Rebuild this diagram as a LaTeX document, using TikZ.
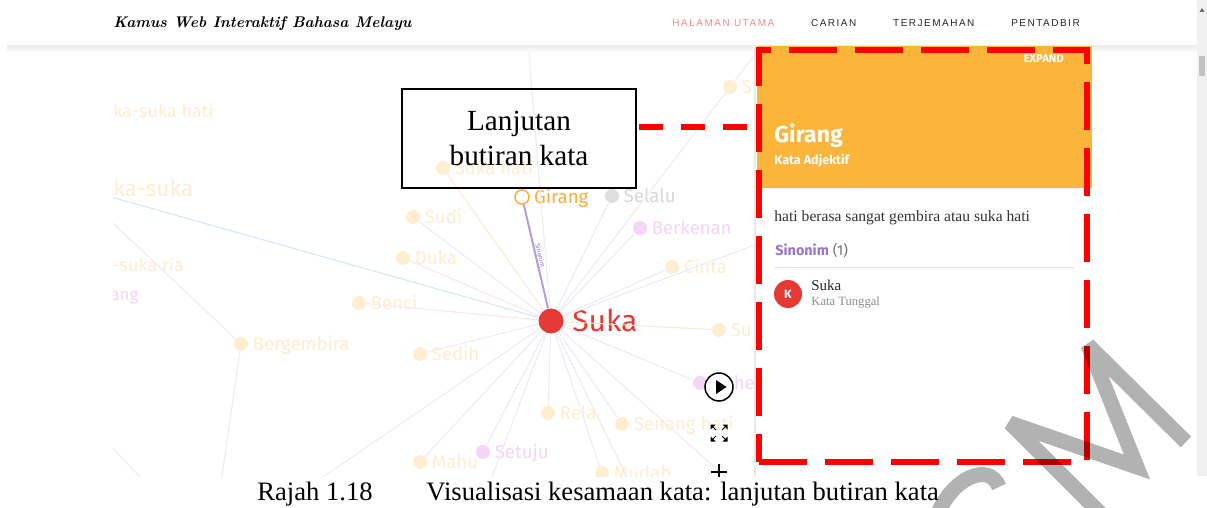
\documentclass[tikz,border=0pt]{standalone}
\usepackage{fontspec}
\setmainfont{Liberation Serif}
\newfontfamily\grafont{Fira Sans}
\newfontfamily\navfont[LetterSpace=15]{Liberation Sans}
\newfontfamily\judulfont{Latin Modern Roman}
\usepackage{tikz}
\usetikzlibrary{arrows,positioning}

\definecolor{pic}{RGB}{255,237,208}
\definecolor{ungu}{RGB}{243,214,245}
\definecolor{oren}{RGB}{255,174,60}
\definecolor{merah}{RGB}{229,57,53}
\definecolor{lavender}{RGB}{234,234,247}
\definecolor{garisoren}{RGB}{253,232,212}
\definecolor{garismerah}{RGB}{251,228,236}
\definecolor{biru}{RGB}{210,229,246}
\definecolor{sinonim}{RGB}{179,157,219}
\definecolor{tajuk}{RGB}{252,181,59}
\definecolor{unguteks}{RGB}{149,117,205}
\definecolor{nav}{RGB}{242,138,138}
\definecolor{bingkai}{RGB}{255,0,0}

\begin{document}
\begin{tikzpicture}[x=0.5pt,y=-0.5pt,
        titik/.style={circle,fill=pic,inner sep=0pt,minimum size=7pt},
        titikungu/.style={titik,fill=ungu},
        tepi/.style={draw=lavender,line width=0.5pt},
        every label/.style={font=\grafont\fontsize{9.3}{9.3}\selectfont,text=pic,
          inner sep=0pt,text height=6.6pt,text depth=0pt},
        label distance=2pt,
        teks/.style={anchor=base west,inner sep=0pt},
        menu/.style={anchor=west,inner sep=0pt,font=\navfont\fontsize{5}{5}\selectfont,text=black!85},
        anak/.style={line width=0.5pt},
        sambung/.style={draw=bingkai,line width=2.7pt,dash pattern=on 12pt off 9pt}]

  \useasboundingbox (0,0) rectangle (1207,508);
  \fill[white] (0,0) rectangle (1207,508);

  % graf kata
  \begin{scope}
    \clip (113,46) rectangle (757,476);
    \node[circle,fill=merah,minimum size=12.5pt,inner sep=0pt,
      label={[text=merah,font=\grafont\fontsize{15}{15}\selectfont,text height=10.7pt,label distance=4pt]right:Suka}]
      (suka) at (551,321) {};
    \node[circle,draw=oren,fill=white,line width=0.75pt,minimum size=7pt,inner sep=0pt,
      label={[text=oren]right:Girang}] (girang) at (522,197) {};
    \node[titik,fill=black!13,label={[text=black!16]right:Selalu}] (selalu) at (612,196) {};
    \node[titik,label=right:Suka hati] (sukahati) at (443,168) {};
    \node[titik,label=right:Sudi] (sudi) at (413,217) {};
    \node[titikungu,label={[text=ungu]right:Berkenan}] (berkenan) at (640,228) {};
    \node[titik,label=right:Duka] (duka) at (403,258) {};
    \node[titik,label=right:Cinta] (cinta) at (672,267) {};
    \node[titik,label=right:Benci] (benci) at (359,303) {};
    \node[titik,label=right:Su] (sub) at (719,330) {};
    \node[titik,label=right:S] (s1) at (730,87) {};
    \node[titik,label=right:Bergembira] (bergembira) at (241,344) {};
    \node[titik,label=right:Sedih] (sedih) at (420,354) {};
    \node[titikungu,label={[text=ungu,label distance=13pt]right:he}] (he) at (700,383) {};
    \node[titik,label=right:Rela] (rela) at (548,413) {};
    \node[titik,label=right:Senang hati] (senanghati) at (622,424) {};
    \node[titikungu,label={[text=ungu]right:Setuju}] (setuju) at (483,452) {};
    \node[titik,label=right:Mahu] (mahu) at (420,462) {};
    \node[titik,label=right:Mudah] (mudah) at (602,473) {};

    \node[anchor=west,inner sep=0pt,text=pic,font=\grafont\fontsize{9}{9}\selectfont] (kk1) at (113,111) {ka-suka hati};
    \node[anchor=west,inner sep=0pt,text=pic,font=\grafont\fontsize{11.3}{11.3}\selectfont] (kk2) at (113,188) {ka-suka};
    \node[anchor=west,inner sep=0pt,text=pic,font=\grafont\fontsize{9}{9}\selectfont] (kk3) at (112,265) {-suka ria};
    \node[anchor=west,inner sep=0pt,text=ungu,font=\grafont\fontsize{8.5}{8.5}\selectfont] (kk4) at (110,297) {ang};

    \coordinate (atas) at (526,20);
    \coordinate (kiri) at (90,191);
    \coordinate (ujungA) at (775,29);
    \coordinate (ujungB) at (800,228);
    \coordinate (bawahA) at (304,490);
    \coordinate (bawahB) at (487,490);
    \coordinate (bawahC) at (633,490);
    \coordinate (bawahD) at (740,490);
    \coordinate (kiriA) at (100,211);
    \coordinate (bawahE) at (220,490);
    \coordinate (kiriB) at (100,434);
    \coordinate (bawahF) at (152,490);

    \path (suka) edge[tepi,draw=garisoren] (sukahati)
          (suka) edge[tepi] (sudi)
          (suka) edge[tepi,draw=garismerah] (duka)
          (suka) edge[tepi,draw=garismerah] (benci)
          (suka) edge[tepi,draw=garismerah] (sedih)
          (suka) edge[tepi,draw=biru] (kiri)
          (suka) edge[tepi] (atas)
          (suka) edge[tepi] (selalu)
          (suka) edge[tepi] (berkenan)
          (suka) edge[tepi] (cinta)
          (suka) edge[tepi] (ujungB)
          (suka) edge[tepi] (s1)
          (s1) edge[tepi] (ujungA)
          (suka) edge[tepi,draw=garisoren] (sub)
          (suka) edge[tepi] (he)
          (suka) edge[tepi] (rela)
          (suka) edge[tepi] (senanghati)
          (suka) edge[tepi] (setuju)
          (suka) edge[tepi] (mahu)
          (suka) edge[tepi] (mudah)
          (suka) edge[tepi] (bawahA)
          (suka) edge[tepi] (bawahB)
          (suka) edge[tepi] (bawahC)
          (suka) edge[tepi] (bawahD)
          (kiriA) edge[tepi] (bergembira)
          (bergembira) edge[tepi] (bawahE)
          (kiriB) edge[tepi] (bawahF);
    \path (girang) edge[draw=sinonim,line width=1pt]
          node[sloped,above,inner sep=0.6pt,text=unguteks,font=\grafont\fontsize{3.2}{3.2}\selectfont] {Sinonim} (suka);

    % kawalan
    \node[circle,draw=black,fill=white,line width=0.75pt,minimum size=14pt,inner sep=0pt] (main) at (719,387) {};
    \fill (716,380) -- (726.5,387) -- (716,394) -- cycle;
    \fill (710.5,424.5) -- (715.5,424.5) -- (710.5,429.5) -- cycle;
    \fill (727.5,424.5) -- (722.5,424.5) -- (727.5,429.5) -- cycle;
    \fill (710.5,441.5) -- (715.5,441.5) -- (710.5,436.5) -- cycle;
    \fill (727.5,441.5) -- (722.5,441.5) -- (727.5,436.5) -- cycle;
    \draw[anak] (712,426) -- (716,430) (726,426) -- (722,430)
                (712,440) -- (716,436) (726,440) -- (722,436);
    \draw[line width=1pt] (711,472) -- (727,472) (719,464) -- (719,480);
  \end{scope}

  % kepala laman
  \fill[white] (0,0) rectangle (1197,46);
  \shade[top color=black!7,bottom color=white] (7,46) rectangle (1197,53);
  \node[anchor=west,inner sep=0pt,font=\judulfont\bfseries\itshape\fontsize{7.7}{7.7}\selectfont] (judul) at (113,24) {Kamus Web Interaktif Bahasa Melayu};
  \node[menu,text=nav] (utama) at (672,23) {HALAMAN UTAMA};
  \node[menu,right=18pt of utama] (carian) {CARIAN};
  \node[menu,right=18pt of carian] (terjemahan) {TERJEMAHAN};
  \node[menu,right=18pt of terjemahan] (pentadbir) {PENTADBIR};

  % bar skrol
  \fill[black!6] (1197,0) rectangle (1207,476);
  \fill[black!24] (1199,56) rectangle (1205,76);
  \fill[black!60] (1199.5,12) -- (1204.5,12) -- (1202,8) -- cycle;

  % panel butiran
  \fill[white] (757,46) rectangle (1093,476);
  \draw[black!9,line width=1pt] (755,46) -- (755,476);
  \node[fill=tajuk,anchor=north west,minimum width=167.5pt,minimum height=71pt,inner sep=0pt] (kepala) at (757,46) {};
  \node[anchor=base east,inner sep=0pt,text=white,font=\grafont\bfseries\fontsize{5.6}{5.6}\selectfont] (expand) at (1064,63) {EXPAND};
  \node[teks,text=white,font=\grafont\bfseries\fontsize{11.5}{11.5}\selectfont] (judulkata) at (774,143) {Girang};
  \node[teks,text=white,font=\grafont\bfseries\fontsize{6.3}{6.3}\selectfont] (jenis) at (774,165) {Kata Adjektif};
  \node[teks,text=black!80,font=\fontsize{7.8}{7.8}\selectfont] (makna) at (774,222) {hati berasa sangat gembira atau suka hati};
  \node[teks,font=\grafont\fontsize{7.2}{7.2}\selectfont] (sin) at (775,256) {\textcolor{unguteks}{\bfseries Sinonim} \textcolor{black!55}{(1)}};
  \draw[black!12,line width=0.5pt] (775,268) -- (1074,268);
  \node[circle,fill=merah,minimum size=14pt,inner sep=0pt,text=white,font=\grafont\bfseries\fontsize{6}{6}\selectfont] (ikon) at (788,294) {K};
  \node[teks,text=black!85,font=\fontsize{7.5}{7.5}\selectfont] (katasuka) at (811,291) {Suka};
  \node[teks,text=black!45,font=\fontsize{6.3}{6.3}\selectfont] (tunggal) at (811,306) {Kata Tunggal};

  % petak dan garis putus merah
  \node[draw=bingkai,line width=2.75pt,dash pattern=on 24pt off 9pt,minimum width=164pt,minimum height=206pt,inner sep=0pt] (bingkai) at (923,256) {};
  \node[draw,line width=1.3pt,minimum width=117pt,minimum height=49.5pt,align=center,inner sep=0pt,
    font=\fontsize{14.6}{17.5}\selectfont] (lanjutan) at (519,138.5) {Lanjutan\\butiran kata};
  \coordinate (mula) at ([yshift=5.75pt]lanjutan.east);
  \draw[sambung,shorten <=1pt,shorten >=4pt] (mula) -- (mula -| bingkai.west);

  % kapsyen
  \node[teks,font=\fontsize{13.3}{13.3}\selectfont] (rajah) at (257,500) {Rajah 1.18};
  \node[teks,font=\fontsize{13.3}{13.3}\selectfont] (tajukrajah) at (426,500) {Visualisasi kesamaan kata: lanjutan butiran kata};

  % tera air
  \begin{scope}
    \clip (0,0) rectangle (1207,508);
    \draw[black,opacity=0.3,line width=7.5pt,miter limit=3] (1105,518) -- (1010,423) -- (1137,467) -- (1088,345) -- (1186,442);
    \draw[black,opacity=0.3,line width=7.5pt] (936,518) .. controls (952,476) and (990,462) .. (999,487);
  \end{scope}
\end{tikzpicture}
\end{document}
